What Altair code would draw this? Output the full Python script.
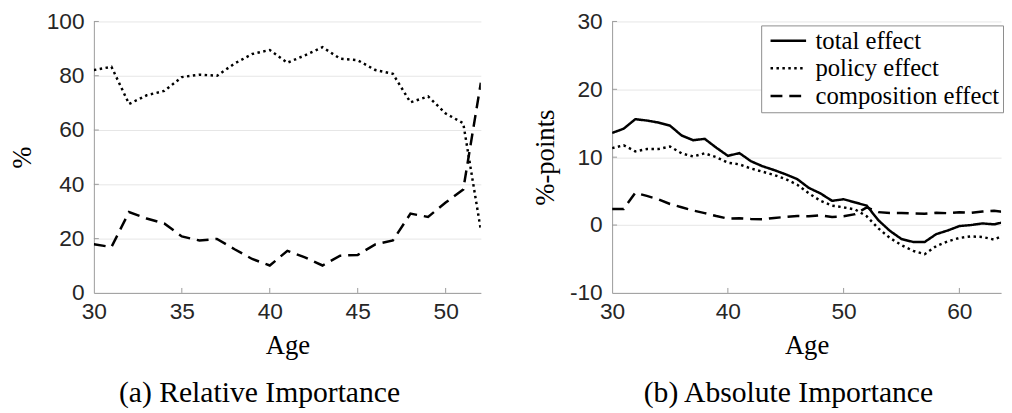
import altair as alt
import pandas as pd

# ---------------- data ----------------
ages_rel = list(range(30, 53))
policy_share = [82.1, 83.3, 69.6, 72.8, 74.4, 79.5, 80.4, 80.0, 84.5, 88.0, 89.5, 84.8,
                87.5, 90.5, 86.3, 85.7, 82.1, 80.7, 70.2, 72.4, 66.1, 62.5, 23.2]
comp_share = [17.9, 16.9, 29.8, 27.4, 25.6, 20.8, 19.3, 19.9, 16.1, 12.5, 10.1, 15.5,
              13.1, 10.1, 13.7, 14.0, 17.9, 19.3, 29.2, 28.0, 33.3, 38.1, 77.4]

ages_abs = list(range(30, 65))
total_effect = [13.57, 14.2, 15.6, 15.4, 15.1, 14.65, 13.2, 12.5, 12.7, 11.4, 10.2, 10.6,
                9.4, 8.66, 8.1, 7.47, 6.76, 5.47, 4.66, 3.57, 3.8, 3.33, 2.86, 0.71,
                -0.86, -2.06, -2.49, -2.5, -1.34, -0.8, -0.15, 0.0, 0.24, 0.1, 0.5]
policy_effect = [11.33, 11.76, 10.86, 11.19, 11.19, 11.57, 10.57, 10.1, 10.57, 10.0, 9.19, 8.94,
                 8.33, 7.86, 7.37, 6.76, 5.94, 4.66, 3.57, 2.86, 2.61, 2.29, 1.29, -0.49,
                 -1.9, -2.96, -3.8, -4.29, -3.1, -2.4, -1.9, -1.67, -1.76, -2.14, -1.4]
comp_effect = [2.38, 2.38, 4.76, 4.29, 3.8, 3.1, 2.62, 2.14, 1.76, 1.33, 0.95, 1.0,
               0.9, 0.85, 1.05, 1.19, 1.33, 1.29, 1.43, 1.19, 1.29, 1.6, 2.6, 1.9,
               1.76, 1.76, 1.7, 1.65, 1.8, 1.75, 1.9, 1.8, 2.0, 2.1, 1.9]

series_names = ["total effect", "policy effect", "composition effect"]

left_x_ticks = [30, 35, 40, 45, 50]
left_y_ticks = [0, 20, 40, 60, 80, 100]
right_x_ticks = [30, 40, 50, 60]
right_y_ticks = [-10, 0, 10, 20, 30]

caption_a = "(a) Relative Importance"
caption_b = "(b) Absolute Importance"

# ---------------- tables ----------------
df_left = pd.DataFrame({
    "age": ages_rel * 2,
    "value": policy_share + comp_share,
    "series": ["policy effect"] * len(ages_rel) + ["composition effect"] * len(ages_rel),
})
df_right = pd.DataFrame({
    "age": ages_abs * 3,
    "value": total_effect + policy_effect + comp_effect,
    "series": (["total effect"] * len(ages_abs) + ["policy effect"] * len(ages_abs)
               + ["composition effect"] * len(ages_abs)),
})

# ---------------- style ----------------
SANS = "Liberation Sans"
SERIF = "Liberation Serif"
AX = "#9a9a9a"
GRID = "#e6e6e6"
LBL = "#262626"
H = 275
WL = 392
WR = 394

dash_scale = alt.Scale(domain=series_names, range=[[1, 0], [2.5, 3.5], [12, 7]])


def x_axis(vals, title):
    return alt.Axis(values=vals, title=title, grid=False, ticks=False,
                    labelExpr="'' + datum.value",
                    domainColor=AX, domainWidth=1, labelFont=SANS, labelFontSize=23,
                    labelColor=LBL, labelPadding=8, labelFlush=False,
                    titleFont=SERIF, titleFontSize=27, titleFontWeight="normal",
                    titleColor="black", titlePadding=9)


def y_axis(vals, title):
    return alt.Axis(values=vals, title=title, grid=True, gridColor=GRID,
                    labelExpr="'' + datum.value",
                    ticks=False, domainColor=AX, domainWidth=1, labelFont=SANS,
                    labelFontSize=23, labelColor=LBL, labelPadding=10,
                    titleFont=SERIF, titleFontSize=27, titleFontWeight="normal",
                    titleColor="black", titlePadding=10)


def panel(df, xdom, ydom, xt, yt, ytitle, legend, width):
    xs = alt.Scale(domain=xdom, nice=False, zero=False)
    ys = alt.Scale(domain=ydom, nice=False, zero=False)
    xa = x_axis(xt, "Age")
    ya = y_axis(yt, ytitle)
    lines = alt.Chart(df).mark_line(color="black", strokeWidth=2.5, clip=True).encode(
        x=alt.X("age:Q", scale=xs, axis=xa),
        y=alt.Y("value:Q", scale=ys, axis=ya),
        strokeDash=alt.StrokeDash("series:N", scale=dash_scale, legend=legend),
    )
    xticks = alt.Chart(pd.DataFrame({"age": xt[1:]})).mark_rule(color=AX, strokeWidth=1).encode(
        x=alt.X("age:Q", scale=xs, axis=xa),
        y=alt.value(H), y2=alt.value(H - 5),
    )
    yticks = alt.Chart(pd.DataFrame({"value": yt[1:]})).mark_rule(color=AX, strokeWidth=1).encode(
        y=alt.Y("value:Q", scale=ys, axis=ya),
        x=alt.value(0), x2=alt.value(5),
    )
    return alt.layer(lines, xticks, yticks).properties(width=width, height=H)


legend_b = alt.Legend(
    orient="none", legendX=151, legendY=4, title=None,
    symbolType="M-1,0H5", symbolSize=144, symbolStrokeWidth=2.5,
    symbolStrokeColor="black", symbolFillColor="transparent",
    labelFont=SERIF, labelFontSize=25, labelColor="black", labelOffset=27,
    labelLimit=400, padding=3, rowPadding=2,
    strokeColor="#8c8c8c", fillColor="white", cornerRadius=0,
)

left = panel(df_left, [30, 52], [0, 100], left_x_ticks, left_y_ticks, "%", None, WL).properties(
    title=alt.TitleParams(caption_a, orient="bottom", font=SERIF, fontSize=30,
                          fontWeight="normal", color="black", offset=21,
                          baseline="top", anchor="middle", frame="bounds", dx=15)
)
right = panel(df_right, [30, 63.6], [-10, 30], right_x_ticks, right_y_ticks, "%-points",
              legend_b, WR).properties(
    title=alt.TitleParams(caption_b, orient="bottom", font=SERIF, fontSize=30,
                          fontWeight="normal", color="black", offset=21,
                          baseline="top", anchor="middle", frame="bounds", dx=21)
)

chart = alt.hconcat(left, right, spacing=51).resolve_scale(
    x="independent", y="independent", strokeDash="independent"
).resolve_legend(strokeDash="independent").properties(
    padding=0, background="white"
).configure_view(stroke=None)

chart.save("out.html", embed_options={"renderer": "svg", "actions": False})
